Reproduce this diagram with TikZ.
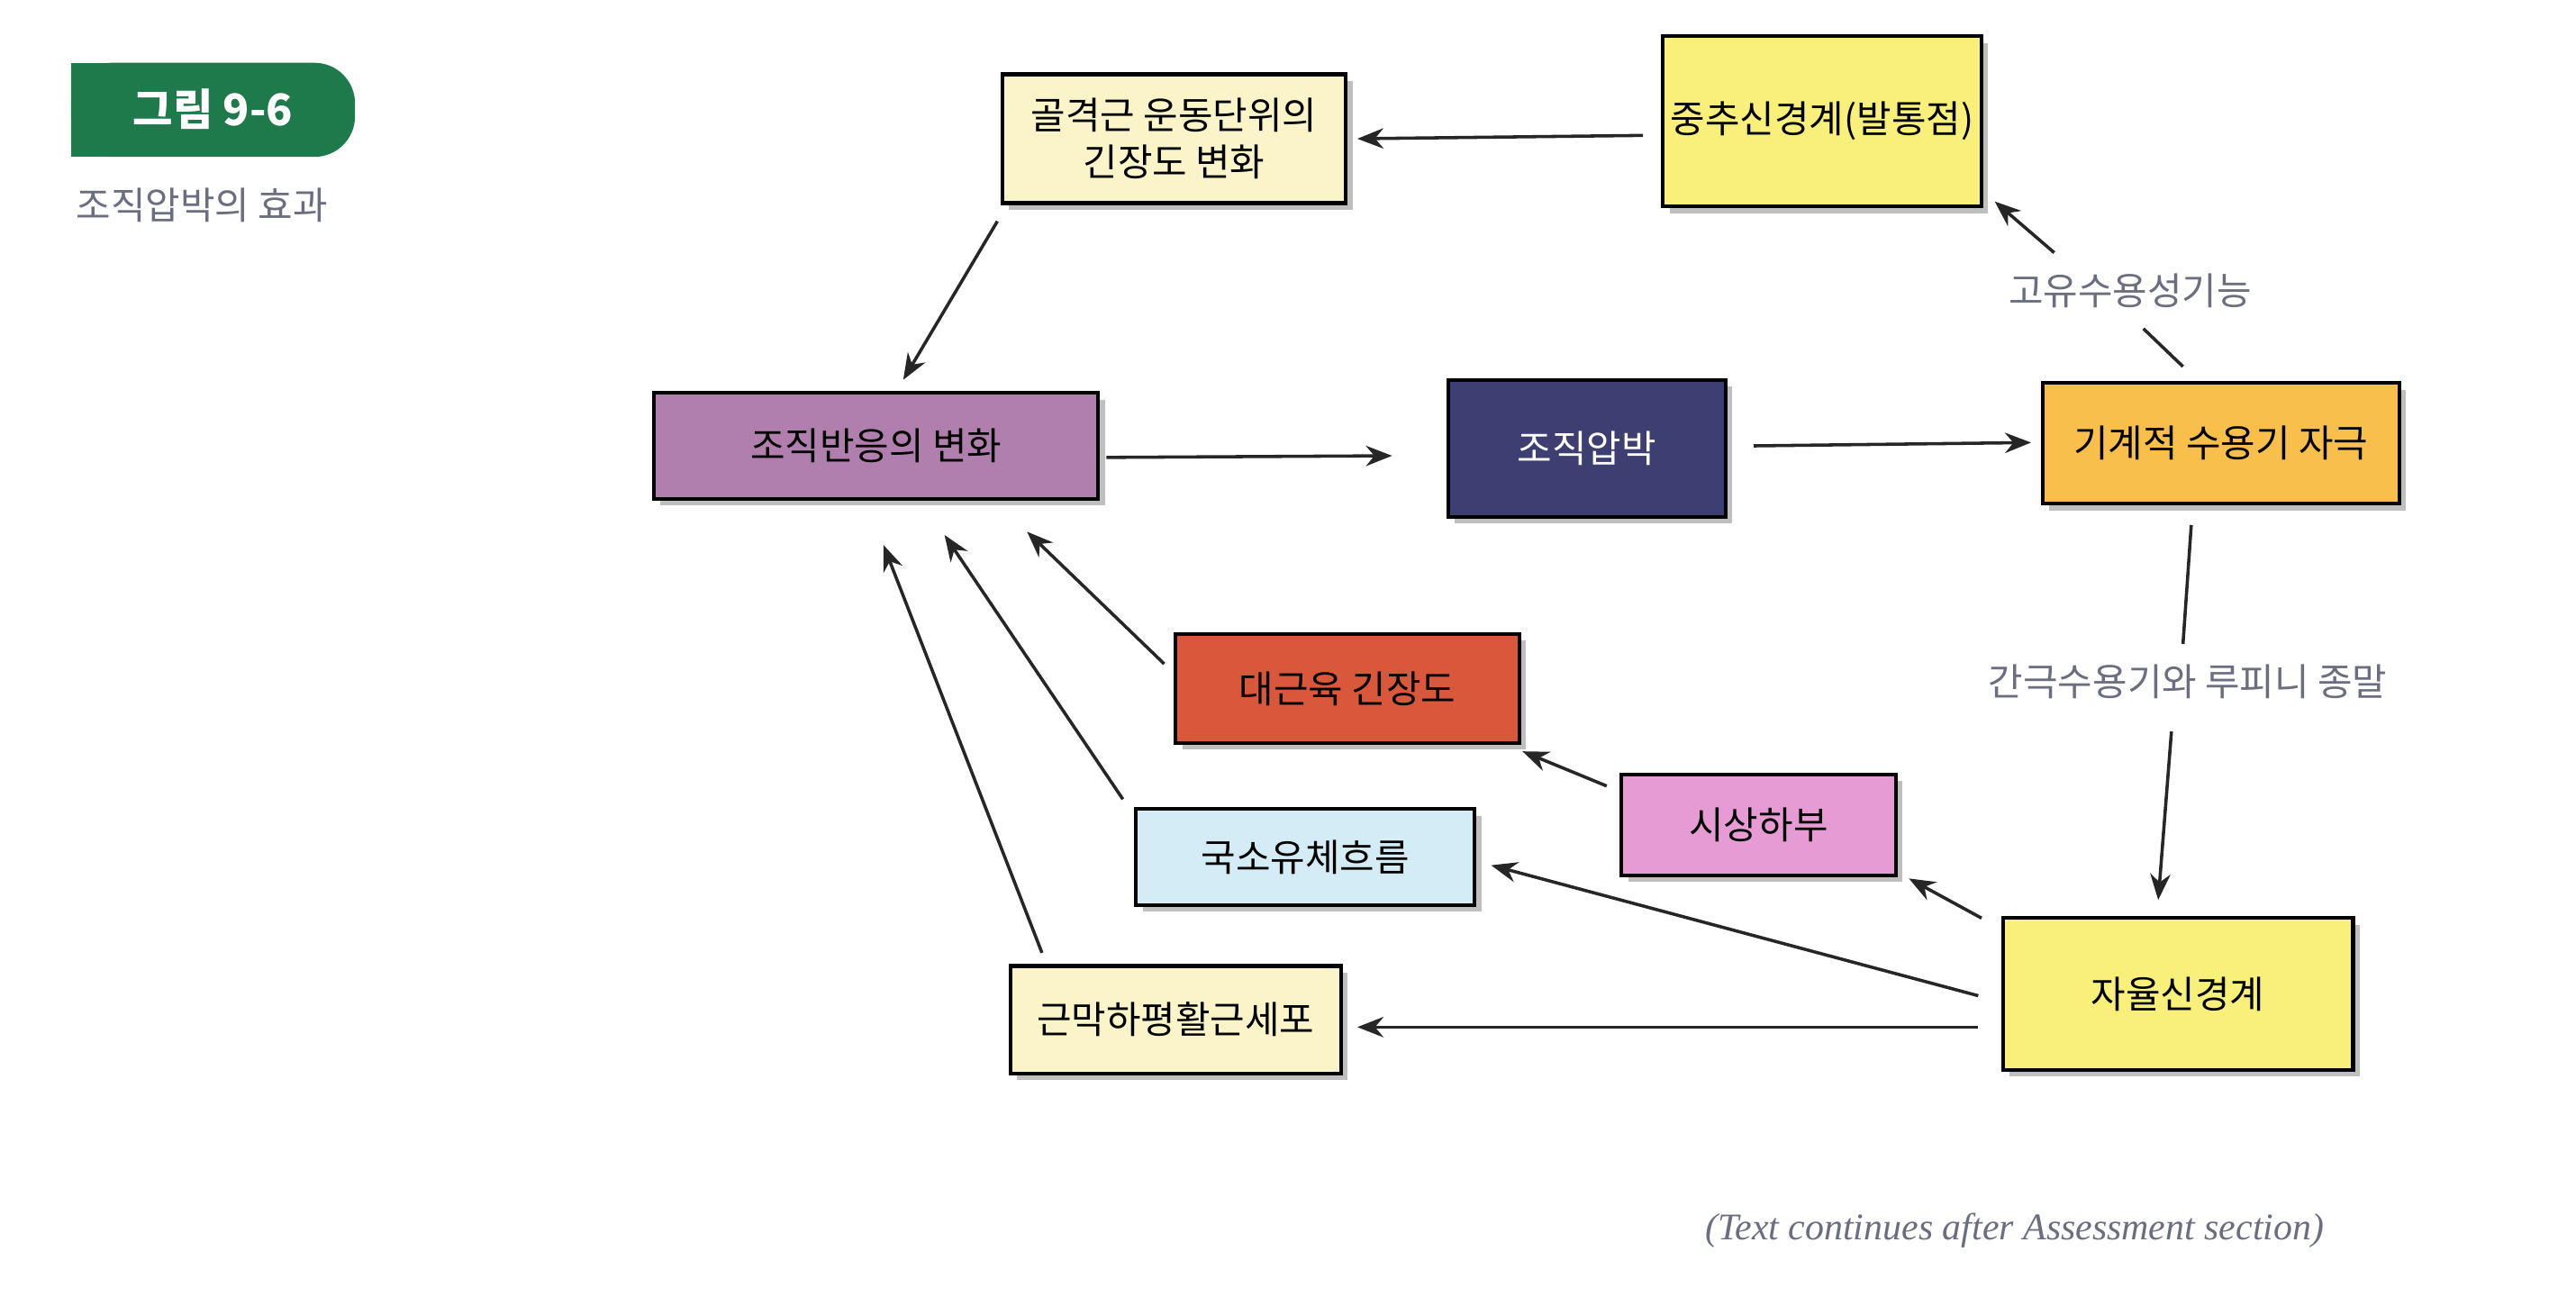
\documentclass[tikz,border=0pt]{standalone}
\usepackage{fontspec}
\setmainfont{Noto Sans CJK KR}
\newfontfamily\serifit{Liberation Serif}
\usetikzlibrary{arrows.meta}
\definecolor{cream}{HTML}{FBF4C8}
\definecolor{yel}{HTML}{F8F07A}
\definecolor{purp}{HTML}{B07FAE}
\definecolor{navy}{HTML}{3D3F73}
\definecolor{oran}{HTML}{F8C04A}
\definecolor{redo}{HTML}{D9573A}
\definecolor{pinkk}{HTML}{E69BD5}
\definecolor{lblue}{HTML}{D3ECF5}
\definecolor{grn}{HTML}{1E7A4A}
\definecolor{txtg}{HTML}{6A6E80}
\tikzset{
 bx/.style={draw=black,line width=1.3pt,font=\fontsize{13}{16}\selectfont,align=center,inner sep=0pt},
 ar/.style={-{Stealth[length=9pt,width=7pt]},line width=1.1pt,color=black!85},
 ln/.style={line width=1.1pt,color=black!85},
 lb/.style={font=\fontsize{13}{16}\selectfont,text=txtg}
}
\newcommand{\bxx}[7]{% name, x1,y1,x2,y2, fill, text
 \fill[black!25] (#2+4,#3+4) rectangle (#4+4,#5+4);
 \node[bx,fill=#6,minimum width=(#4-#2)*0.02cm,minimum height=(#5-#3)*0.02cm] (#1) at ({(#2+#4)/2},{(#3+#5)/2}) {#7};}
\begin{document}
\begin{tikzpicture}[x=0.02cm,y=-0.02cm]
\useasboundingbox[fill=white] (0,0) rectangle (1560,796);
\fill[grn,rounded corners=14pt] (43,38) rectangle (215,95);
\fill[grn] (43,38) rectangle (100,95);
\node[text=white,font=\fontsize{15}{18}\selectfont\bfseries] (fig) at (129,66) {그림 9-6};
\node[text=txtg,font=\fontsize{13}{16}\selectfont,anchor=west] (cap) at (40,124) {조직압박의 효과};
\bxx{gol}{607}{45}{815}{123}{cream}{골격근 운동단위의\\긴장도 변화}
\bxx{cns}{1007}{22}{1200}{125}{yel}{중추신경계(발통점)}
\bxx{tis}{396}{238}{665}{302}{purp}{조직반응의 변화}
\bxx{pre}{877}{230}{1045}{313}{navy}{\textcolor{white}{조직압박}}
\bxx{mec}{1237}{232}{1453}{305}{oran}{기계적 수용기 자극}
\bxx{big}{712}{384}{920}{450}{redo}{대근육 긴장도}
\bxx{hyp}{982}{469}{1148}{530}{pinkk}{시상하부}
\bxx{flu}{688}{490}{893}{548}{lblue}{국소유체흐름}
\bxx{smo}{612}{585}{812}{650}{cream}{근막하평활근세포}
\bxx{ans}{1213}{556}{1425}{648}{yel}{자율신경계}
\coordinate (c1) at (995,82); \coordinate (c2) at (822,84);
\draw[ar] (c1) -- (c2);
\coordinate (c3) at (604,134); \coordinate (c4) at (547,230);
\draw[ar] (c3) -- (c4);
\coordinate (c5) at (670,277); \coordinate (c6) at (843,276);
\draw[ar] (c5) -- (c6);
\coordinate (c7) at (1062,270); \coordinate (c8) at (1230,268);
\draw[ar] (c7) -- (c8);
\node[lb] (l1) at (1290,176) {고유수용성기능};
\coordinate (d1) at (1322,222); \coordinate (d2) at (1298,199);
\coordinate (d3) at (1244,153); \coordinate (d4) at (1208,122);
\draw[ln] (d1) -- (d2); \draw[ar] (d3) -- (d4);
\node[lb] (l2) at (1325,413) {간극수용기와 루피니 종말};
\coordinate (e1) at (1327,318); \coordinate (e2) at (1322,390);
\coordinate (e3) at (1315,443); \coordinate (e4) at (1307,545);
\draw[ln] (e1) -- (e2); \draw[ar] (e3) -- (e4);
\coordinate (f1) at (1200,556); \coordinate (f2) at (1156,532);
\draw[ar] (f1) -- (f2);
\coordinate (f3) at (1198,603); \coordinate (f4) at (903,524);
\draw[ar] (f3) -- (f4);
\coordinate (f5) at (1198,622); \coordinate (f6) at (822,622);
\draw[ar] (f5) -- (f6);
\coordinate (g1) at (973,476); \coordinate (g2) at (922,455);
\draw[ar] (g1) -- (g2);
\coordinate (g3) at (705,402); \coordinate (g4) at (622,322);
\draw[ar] (g3) -- (g4);
\coordinate (g5) at (680,484); \coordinate (g6) at (572,324);
\draw[ar] (g5) -- (g6);
\coordinate (g7) at (631,577); \coordinate (g8) at (535,330);
\draw[ar] (g7) -- (g8);
\node[text=txtg,font=\serifit\itshape\fontsize{13}{16}\selectfont] (tc) at (1220,745) {(Text continues after Assessment section)};
\end{tikzpicture}
\end{document}
